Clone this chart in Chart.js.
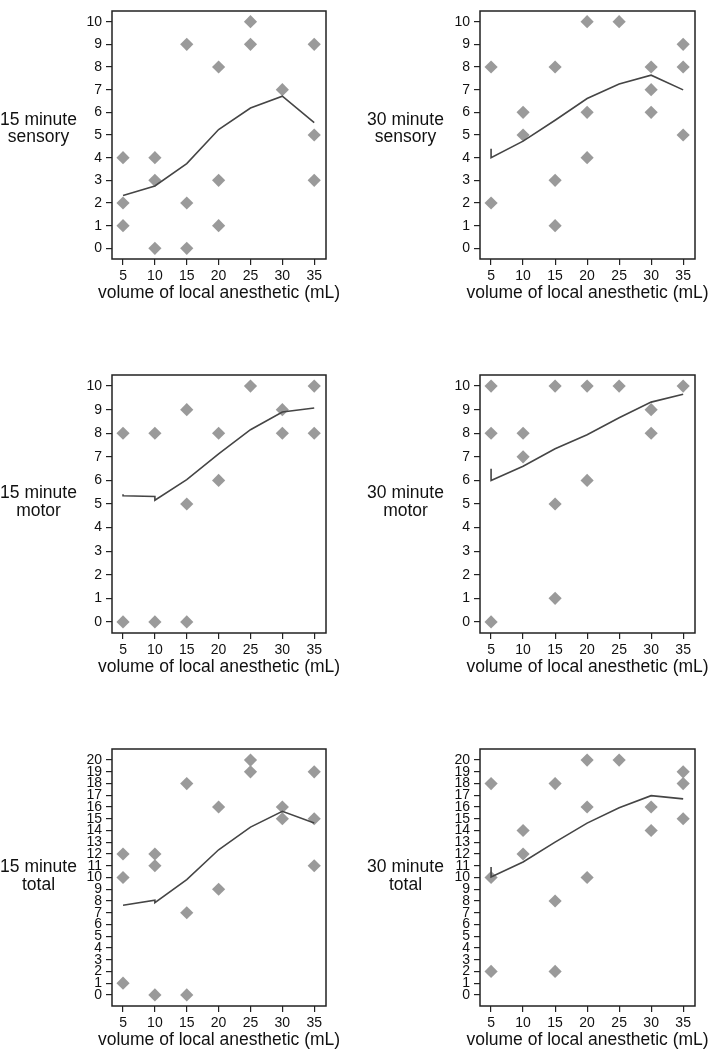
<!DOCTYPE html>
<html>
<head>
<meta charset="utf-8">
<script src="https://cdn.jsdelivr.net/npm/chart.js@4.4.1/dist/chart.umd.min.js"></script>
<style>
html,body{margin:0;padding:0;background:#fff;}
body{position:relative;width:709px;height:1050px;overflow:hidden;font-family:Arial,'Liberation Sans',Helvetica,sans-serif;}
canvas{position:absolute;}
.ylab{position:absolute;text-align:center;font-size:17.5px;line-height:17.5px;color:#111;white-space:nowrap;}
</style>
</head>
<body>
<script>
// ---------- data ----------
const xTicks = [5, 10, 15, 20, 25, 30, 35];
const yTicks10 = [0, 1, 2, 3, 4, 5, 6, 7, 8, 9, 10];
const yTicks20 = [0, 1, 2, 3, 4, 5, 6, 7, 8, 9, 10, 11, 12, 13, 14, 15, 16, 17, 18, 19, 20];
const xTitle = 'volume of local anesthetic (mL)';

const sens15X = [5, 5, 5, 10, 10, 10, 15, 15, 15, 20, 20, 20, 25, 25, 30, 35, 35, 35];
const sens15Y = [4, 2, 1, 4, 3, 0, 9, 2, 0, 8, 3, 1, 10, 9, 7, 9, 5, 3];
const sens15FitX = [5, 10, 15, 20, 25, 30, 35];
const sens15FitY = [2.33, 2.75, 3.74, 5.24, 6.19, 6.71, 5.55];

const sens30X = [5, 5, 10, 10, 15, 15, 15, 20, 20, 20, 25, 30, 30, 30, 35, 35, 35];
const sens30Y = [8, 2, 6, 5, 8, 3, 1, 10, 6, 4, 10, 8, 7, 6, 9, 8, 5];
const sens30FitX = [5, 5, 10, 15, 20, 25, 30, 35];
const sens30FitY = [4.39, 4.0, 4.73, 5.65, 6.61, 7.25, 7.64, 6.99];

const mot15X = [5, 5, 10, 10, 15, 15, 15, 20, 20, 25, 30, 30, 35, 35];
const mot15Y = [8, 0, 8, 0, 9, 5, 0, 8, 6, 10, 9, 8, 10, 8];
const mot15FitX = [5, 5, 10, 10, 15, 20, 25, 30, 35];
const mot15FitY = [5.41, 5.35, 5.32, 5.16, 6.03, 7.13, 8.15, 8.9, 9.07];

const mot30X = [5, 5, 5, 10, 10, 15, 15, 15, 20, 20, 25, 30, 30, 35];
const mot30Y = [10, 8, 0, 8, 7, 10, 5, 1, 10, 6, 10, 9, 8, 10];
const mot30FitX = [5, 5, 10, 15, 20, 25, 30, 35];
const mot30FitY = [6.5, 6.0, 6.6, 7.34, 7.94, 8.66, 9.32, 9.65];

const tot15X = [5, 5, 5, 10, 10, 10, 15, 15, 15, 20, 20, 25, 25, 30, 30, 35, 35, 35];
const tot15Y = [12, 10, 1, 12, 11, 0, 18, 7, 0, 16, 9, 20, 19, 16, 15, 19, 15, 11];
const tot15FitX = [5, 10, 10, 15, 20, 25, 30, 35];
const tot15FitY = [7.64, 8.06, 7.86, 9.82, 12.36, 14.29, 15.64, 14.63];

const tot30X = [5, 5, 5, 10, 10, 15, 15, 15, 20, 20, 20, 25, 30, 30, 35, 35, 35];
const tot30Y = [18, 10, 2, 14, 12, 18, 8, 2, 20, 16, 10, 20, 16, 14, 19, 18, 15];
const tot30FitX = [5, 5, 10, 15, 20, 25, 30, 35];
const tot30FitY = [10.89, 10.04, 11.32, 13.01, 14.63, 15.93, 16.97, 16.69];

// ---------- layout ----------
const colL = [112, 480], colR = [326, 695];
const canvasL = [0, 360], canvasR = [352, 709];
const rowT = [1, 374.5, 749], rowB = [259, 632.5, 1006];
const labLeft = [0, 367], labTop = [110.5, 484.3, 858];
const X_AXIS_H = 50;
const TITLE_OFFSET = 34.3;
const FONT = "Arial, 'Liberation Sans', Helvetica, sans-serif";

const panels = [
  {row: 0, col: 0, label: ['15 minute', 'sensory'], xs: sens15X, ys: sens15Y, fx: sens15FitX, fy: sens15FitY, yt: yTicks10, ymin: -0.47, ymax: 10.47},
  {row: 0, col: 1, label: ['30 minute', 'sensory'], xs: sens30X, ys: sens30Y, fx: sens30FitX, fy: sens30FitY, yt: yTicks10, ymin: -0.47, ymax: 10.47},
  {row: 1, col: 0, label: ['15 minute', 'motor'], xs: mot15X, ys: mot15Y, fx: mot15FitX, fy: mot15FitY, yt: yTicks10, ymin: -0.47, ymax: 10.47},
  {row: 1, col: 1, label: ['30 minute', 'motor'], xs: mot30X, ys: mot30Y, fx: mot30FitX, fy: mot30FitY, yt: yTicks10, ymin: -0.47, ymax: 10.47},
  {row: 2, col: 0, label: ['15 minute', 'total'], xs: tot15X, ys: tot15Y, fx: tot15FitX, fy: tot15FitY, yt: yTicks20, ymin: -0.94, ymax: 20.94},
  {row: 2, col: 1, label: ['30 minute', 'total'], xs: tot30X, ys: tot30Y, fx: tot30FitX, fy: tot30FitY, yt: yTicks20, ymin: -0.94, ymax: 20.94}
];

Chart.defaults.font.family = FONT;
Chart.defaults.color = '#111';

// frame round the plot area + x-axis title (drawn without width squeezing)
const framePlugin = {
  id: 'frame',
  afterDraw(chart) {
    const {ctx, chartArea: a} = chart;
    ctx.save();
    ctx.strokeStyle = '#222';
    ctx.lineWidth = 1.5;
    ctx.strokeRect(a.left, a.top, a.right - a.left, a.bottom - a.top);
    ctx.fillStyle = '#111';
    ctx.font = '17.5px ' + FONT;
    ctx.textAlign = 'center';
    ctx.textBaseline = 'middle';
    ctx.fillText(xTitle, (a.left + a.right) / 2, a.bottom + TITLE_OFFSET);
    ctx.restore();
  }
};

panels.forEach(p => {
  const T = rowT[p.row], B = rowB[p.row];
  const L = colL[p.col], R = colR[p.col];
  const cTop = Math.max(0, T - 12);
  const padTop = T - cTop;
  const cLeft = canvasL[p.col];
  const W = canvasR[p.col] - cLeft;
  const H = padTop + (B - T) + X_AXIS_H;

  const cv = document.createElement('canvas');
  cv.width = W; cv.height = H;
  cv.style.left = cLeft + 'px';
  cv.style.top = cTop + 'px';
  cv.style.width = W + 'px';
  cv.style.height = H + 'px';
  document.body.appendChild(cv);

  const lab = document.createElement('div');
  lab.className = 'ylab';
  lab.style.left = labLeft[p.col] + 'px';
  lab.style.top = labTop[p.row] + 'px';
  lab.style.width = '77px';
  lab.innerHTML = p.label.join('<br>');
  document.body.appendChild(lab);

  const yTickVals = p.yt;
  new Chart(cv, {
    type: 'scatter',
    data: {
      datasets: [
        {
          label: 'fit',
          data: p.fx.map((x, i) => ({x: x, y: p.fy[i]})),
          showLine: true,
          borderColor: '#454545',
          borderWidth: 1.6,
          pointRadius: 0,
          pointHoverRadius: 0,
          tension: 0,
          fill: false,
          order: 0
        },
        {
          label: 'obs',
          data: p.xs.map((x, i) => ({x: x, y: p.ys[i]})),
          pointStyle: 'rectRot',
          pointRadius: 6.6,
          pointHoverRadius: 6.6,
          backgroundColor: '#9a9a9a',
          borderColor: '#9a9a9a',
          borderWidth: 0,
          order: 1
        }
      ]
    },
    options: {
      responsive: false,
      animation: false,
      events: [],
      layout: {padding: {left: 0, top: padTop, right: canvasR[p.col] - R, bottom: 0}},
      plugins: {legend: {display: false}, tooltip: {enabled: false}},
      scales: {
        x: {
          type: 'linear',
          min: 3.27,
          max: 36.85,
          afterBuildTicks: s => { s.ticks = xTicks.map(v => ({value: v})); },
          afterFit: s => { s.height = X_AXIS_H; },
          grid: {display: true, drawOnChartArea: false, drawTicks: true, tickLength: 6, color: '#222', lineWidth: 1.2},
          border: {display: false},
          ticks: {font: {family: FONT, size: 14}, color: '#111', padding: 2.5, autoSkip: false, maxRotation: 0},
          title: {display: false}
        },
        y: {
          type: 'linear',
          min: p.ymin,
          max: p.ymax,
          afterBuildTicks: s => { s.ticks = yTickVals.map(v => ({value: v})); },
          afterFit: s => { s.width = L - cLeft; },
          grid: {display: true, drawOnChartArea: false, drawTicks: true, tickLength: 6, color: '#222', lineWidth: 1.2},
          border: {display: false},
          ticks: {font: {family: FONT, size: 14, lineHeight: 1.0}, color: '#111', padding: 4, autoSkip: false}
        }
      }
    },
    plugins: [framePlugin]
  });
});
</script>
</body>
</html>
